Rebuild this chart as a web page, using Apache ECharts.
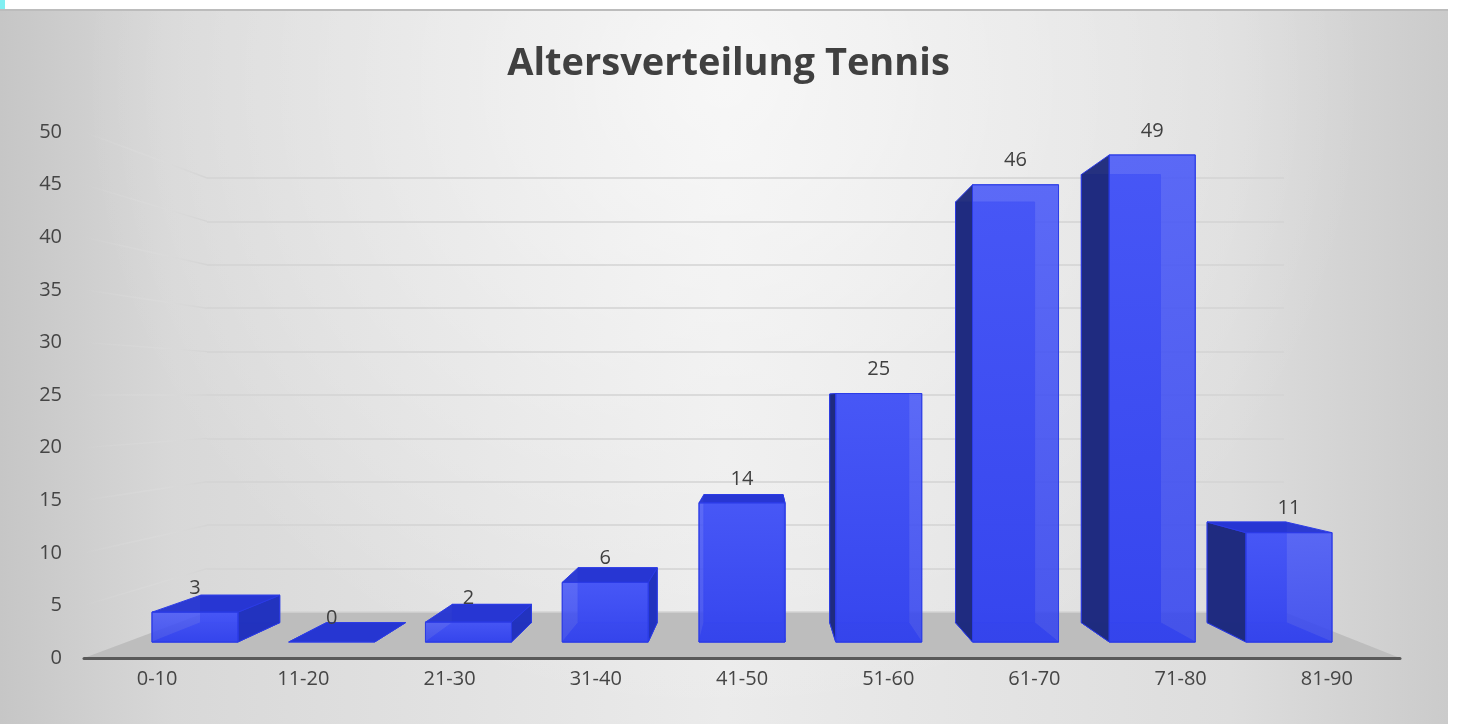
<!DOCTYPE html>
<html><head><meta charset="utf-8">
<script src="https://cdn.jsdelivr.net/npm/echarts@6.0.0/dist/echarts.min.js"></script>
<style>html,body{margin:0;padding:0;background:#fff}#c{width:1457px;height:724px}</style>
</head><body><div id="c"></div>
<script>
// ---- data ----
const titleText = 'Altersverteilung Tennis';
const categories = ['0-10', '11-20', '21-30', '31-40', '41-50', '51-60', '61-70', '71-80', '81-90'];
const values = [3, 0, 2, 6, 14, 25, 46, 49, 11];
const yMin = 0, yMax = 50, yStep = 5;

// ---- projection settings (layout only) ----
const VP = [760, 400];      // vanishing point
const DEPTH = 0.92;         // back face scale toward VP
const BAR_RATIO = 0.629;    // bar front width / category band
const FONT = '"Open Sans", "Noto Sans", sans-serif';

const chart = echarts.init(document.getElementById('c'), null, {renderer: 'canvas'});

function proj(p) { return [VP[0] + DEPTH * (p[0] - VP[0]), VP[1] + DEPTH * (p[1] - VP[1])]; }

function renderBar(params, api) {
  const i = api.value(0), v = api.value(1);
  const band = api.size([1, 0])[0];
  const w = band * BAR_RATIO;
  const top = api.coord([i, v]);
  const base = api.coord([i, 0]);
  const cx = top[0];
  const x1 = cx - w / 2, x2 = cx + w / 2, yt = top[1], yb = base[1];
  const FTL = [x1, yt], FTR = [x2, yt], FBR = [x2, yb], FBL = [x1, yb];
  const BTL = proj(FTL), BTR = proj(FTR), BBR = proj(FBR), BBL = proj(FBL);
  const edge = '#2b3be6';
  const kids = [];
  const poly = (pts, fill, op) => ({type: 'polygon', shape: {points: pts},
    style: {fill: fill, stroke: edge, lineWidth: 1, opacity: op == null ? 1 : op}});
  if (v > 0) kids.push(poly([BTL, BTR, BBR, BBL], '#2f3fe8', 0.9));
  kids.push(poly([FBL, FBR, BBR, BBL], '#2838d8', 0.9));
  if (v > 0) {
    if (cx < VP[0]) kids.push(poly([FTR, BTR, BBR, FBR], '#2131bd', 0.95));
    else kids.push(poly([FTL, BTL, BBL, FBL], '#1e2a7c', 0.97));
  }
  if (yt > VP[1]) kids.push(poly([FTL, FTR, BTR, BTL], '#2636d2', 0.97));
  if (v > 0) kids.push({type: 'polygon', shape: {points: [FTL, FTR, FBR, FBL]},
    style: {fill: new echarts.graphic.LinearGradient(0, 0, 0, 1, [
      {offset: 0, color: '#4858f8'}, {offset: 1, color: '#3444ef'}]),
      stroke: edge, lineWidth: 1, opacity: 0.88}});
  kids.push({type: 'text', style: {text: String(v), x: cx, y: yt - 24, align: 'center',
    verticalAlign: 'middle', font: '20px ' + FONT, fill: '#404040'}});
  return {type: 'group', children: kids};
}

const option = {
  animation: false,
  backgroundColor: '#ffffff',
  title: {text: titleText, left: 'center', top: 40,
    textStyle: {fontFamily: FONT, fontWeight: 'bold', fontSize: 38, color: '#404040'}},
  grid: [
    {left: 84, right: 57, top: 132, bottom: 66},
    {left: 126.6, right: 99.6, top: 145, bottom: 82},
    {left: 207, right: 173, top: 178, bottom: 112}
  ],
  xAxis: [
    {gridIndex: 0, type: 'category', data: categories, z: 5,
      axisLine: {lineStyle: {color: '#595959', width: 3}}, axisTick: {show: false},
      axisLabel: {color: '#454545', fontSize: 20, fontFamily: FONT, margin: 11}},
    {gridIndex: 1, type: 'category', data: categories, show: false},
    {gridIndex: 2, type: 'value', min: 0, max: 1, show: false},
    {gridIndex: 0, type: 'value', min: 0, max: 1, show: false}
  ],
  yAxis: [
    {gridIndex: 0, type: 'value', min: yMin, max: yMax, interval: yStep,
      axisLine: {show: false}, axisTick: {show: false}, splitLine: {show: false},
      axisLabel: {color: '#454545', fontSize: 20, fontFamily: FONT, margin: 22}},
    {gridIndex: 1, type: 'value', min: yMin, max: yMax, interval: yStep, show: false},
    {gridIndex: 2, type: 'value', min: yMin, max: yMax, interval: yStep,
      axisLine: {show: false}, axisTick: {show: false}, axisLabel: {show: false},
      splitLine: {show: true, lineStyle: {color: '#d3d3d3', width: 1.6}}}
  ],
  series: [{
    type: 'custom', xAxisIndex: 1, yAxisIndex: 1,
    renderItem: renderBar,
    data: values.map((v, i) => [i, v]),
    z: 3
  }]
};
chart.setOption(option);

const front = (x, v) => chart.convertToPixel({xAxisIndex: 3, yAxisIndex: 0}, [x, v]);
const wall = (x, v) => chart.convertToPixel({xAxisIndex: 2, yAxisIndex: 2}, [x, v]);
const g = [];
g.push({type: 'rect', z: -30, silent: true, shape: {x: 0, y: 10, width: 1448, height: 714},
  style: {fill: new echarts.graphic.LinearGradient(0, 0, 1, 0, [
    {offset: 0, color: '#c6c6c6'}, {offset: 0.12, color: '#d8d8d8'}, {offset: 0.5, color: '#ebebeb'},
    {offset: 0.85, color: '#dddddd'}, {offset: 1, color: '#cbcbcb'}])}});
g.push({type: 'rect', z: -29, silent: true, shape: {x: 0, y: 10, width: 1448, height: 714},
  style: {fill: new echarts.graphic.RadialGradient(0.5, 0.1, 0.9, [
    {offset: 0, color: 'rgba(255,255,255,0.6)'}, {offset: 1, color: 'rgba(255,255,255,0)'}])}});
g.push({type: 'rect', z: -28, silent: true, shape: {x: 0, y: 9, width: 1448, height: 2},
  style: {fill: '#bcbcbc'}});
g.push({type: 'rect', z: -28, silent: true, shape: {x: 0, y: 0, width: 5, height: 9},
  style: {fill: '#80eff2'}});
const f0 = front(0, 0), f1 = front(1, 0), w1 = wall(1, 0), w0 = wall(0, 0);
g.push({type: 'polygon', z: -20, silent: true, shape: {points: [f0, f1, w1, w0]},
  style: {fill: '#bdbdbd'}});
for (let v = yMin + yStep; v <= yMax; v += yStep) {
  const a = wall(0, v), b = front(0, v);
  g.push({type: 'line', z: -20, silent: true, shape: {x1: a[0], y1: a[1], x2: b[0], y2: b[1]},
    style: {lineWidth: 1.4, stroke: new echarts.graphic.LinearGradient(a[0], 0, b[0], 0, [
      {offset: 0, color: 'rgba(212,212,212,1)'}, {offset: 0.5, color: 'rgba(222,222,222,0.35)'},
      {offset: 1, color: 'rgba(230,230,230,0)'}], true)}});
}
chart.setOption({graphic: {elements: g}});
</script></body></html>
